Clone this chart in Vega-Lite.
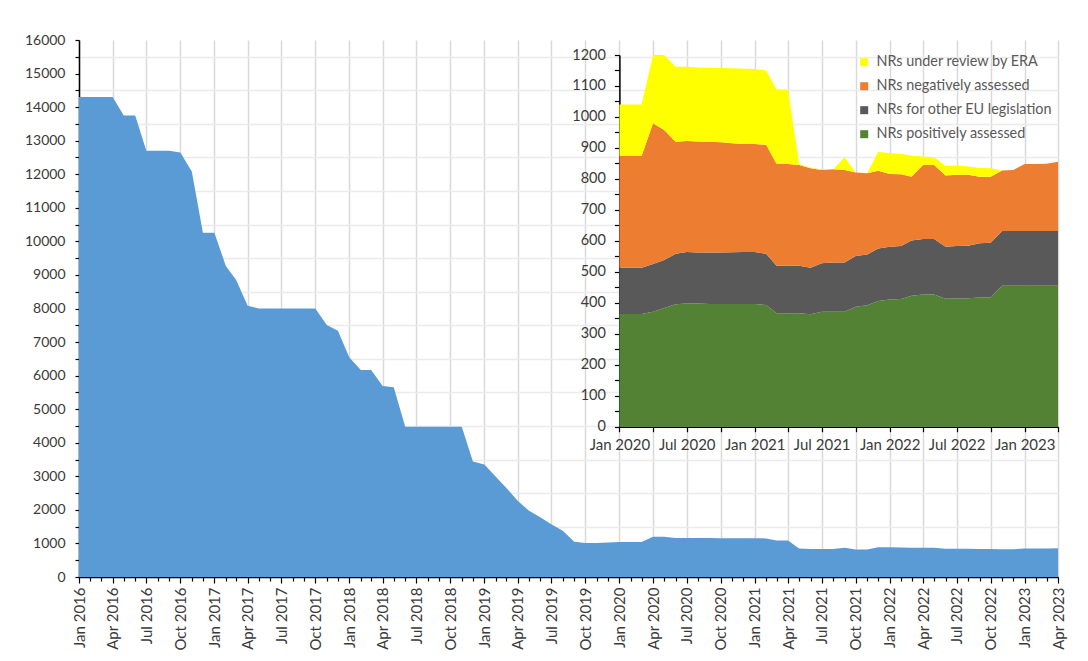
{
  "$schema": "https://vega.github.io/schema/vega-lite/v6.json",
  "width": 979,
  "height": 537,
  "autosize": {"type": "none"},
  "padding": {"left": 79, "top": 40, "right": 30, "bottom": 84},
  "background": "white",
  "config": {
    "font": "Lato",
    "view": {"stroke": null},
    "axis": {"labelFont": "Lato", "labelColor": "#3a3a3a", "domainColor": "black", "tickColor": "black", "title": null, "domainWidth": 1.5, "tickWidth": 1.2}
  },
  "datasets": {
    "main": [
      {"d": "2016-01", "v": 14300}, {"d": "2016-02", "v": 14300}, {"d": "2016-03", "v": 14300}, {"d": "2016-04", "v": 14300},
      {"d": "2016-05", "v": 13750}, {"d": "2016-06", "v": 13750}, {"d": "2016-07", "v": 12700}, {"d": "2016-08", "v": 12700},
      {"d": "2016-09", "v": 12700}, {"d": "2016-10", "v": 12650}, {"d": "2016-11", "v": 12080}, {"d": "2016-12", "v": 10260},
      {"d": "2017-01", "v": 10260}, {"d": "2017-02", "v": 9270}, {"d": "2017-03", "v": 8850}, {"d": "2017-04", "v": 8080},
      {"d": "2017-05", "v": 8000}, {"d": "2017-06", "v": 8000}, {"d": "2017-07", "v": 8000}, {"d": "2017-08", "v": 8000},
      {"d": "2017-09", "v": 8000}, {"d": "2017-10", "v": 8000}, {"d": "2017-11", "v": 7510}, {"d": "2017-12", "v": 7340},
      {"d": "2018-01", "v": 6540}, {"d": "2018-02", "v": 6170}, {"d": "2018-03", "v": 6170}, {"d": "2018-04", "v": 5690},
      {"d": "2018-05", "v": 5650}, {"d": "2018-06", "v": 4480}, {"d": "2018-07", "v": 4480}, {"d": "2018-08", "v": 4480},
      {"d": "2018-09", "v": 4480}, {"d": "2018-10", "v": 4480}, {"d": "2018-11", "v": 4480}, {"d": "2018-12", "v": 3440},
      {"d": "2019-01", "v": 3350}, {"d": "2019-02", "v": 2990}, {"d": "2019-03", "v": 2660}, {"d": "2019-04", "v": 2270},
      {"d": "2019-05", "v": 1980}, {"d": "2019-06", "v": 1780}, {"d": "2019-07", "v": 1570}, {"d": "2019-08", "v": 1380},
      {"d": "2019-09", "v": 1050}, {"d": "2019-10", "v": 1010}, {"d": "2019-11", "v": 1010}, {"d": "2019-12", "v": 1030},
      {"d": "2020-01", "v": 1040}, {"d": "2020-02", "v": 1040}, {"d": "2020-03", "v": 1040}, {"d": "2020-04", "v": 1200},
      {"d": "2020-05", "v": 1200}, {"d": "2020-06", "v": 1162}, {"d": "2020-07", "v": 1162}, {"d": "2020-08", "v": 1160},
      {"d": "2020-09", "v": 1159}, {"d": "2020-10", "v": 1158}, {"d": "2020-11", "v": 1157}, {"d": "2020-12", "v": 1156},
      {"d": "2021-01", "v": 1155}, {"d": "2021-02", "v": 1150}, {"d": "2021-03", "v": 1089}, {"d": "2021-04", "v": 1089},
      {"d": "2021-05", "v": 848}, {"d": "2021-06", "v": 836}, {"d": "2021-07", "v": 831}, {"d": "2021-08", "v": 831},
      {"d": "2021-09", "v": 870}, {"d": "2021-10", "v": 821}, {"d": "2021-11", "v": 818}, {"d": "2021-12", "v": 888},
      {"d": "2022-01", "v": 883}, {"d": "2022-02", "v": 881}, {"d": "2022-03", "v": 875}, {"d": "2022-04", "v": 872},
      {"d": "2022-05", "v": 870}, {"d": "2022-06", "v": 842}, {"d": "2022-07", "v": 843}, {"d": "2022-08", "v": 840},
      {"d": "2022-09", "v": 835}, {"d": "2022-10", "v": 834}, {"d": "2022-11", "v": 827}, {"d": "2022-12", "v": 829},
      {"d": "2023-01", "v": 848}, {"d": "2023-02", "v": 848}, {"d": "2023-03", "v": 849}, {"d": "2023-04", "v": 855}
    ],
    "nr": [
      {"d": "2020-01", "pos": 364, "oth": 149, "neg": 361, "rev": 166},
      {"d": "2020-02", "pos": 364, "oth": 149, "neg": 361, "rev": 166},
      {"d": "2020-03", "pos": 364, "oth": 149, "neg": 361, "rev": 166},
      {"d": "2020-04", "pos": 371, "oth": 154, "neg": 455, "rev": 220},
      {"d": "2020-05", "pos": 383, "oth": 155, "neg": 420, "rev": 242},
      {"d": "2020-06", "pos": 395, "oth": 163, "neg": 362, "rev": 242},
      {"d": "2020-07", "pos": 398, "oth": 166, "neg": 358, "rev": 240},
      {"d": "2020-08", "pos": 398, "oth": 164, "neg": 359, "rev": 239},
      {"d": "2020-09", "pos": 396, "oth": 166, "neg": 358, "rev": 239},
      {"d": "2020-10", "pos": 396, "oth": 166, "neg": 356, "rev": 240},
      {"d": "2020-11", "pos": 396, "oth": 167, "neg": 352, "rev": 242},
      {"d": "2020-12", "pos": 396, "oth": 168, "neg": 349, "rev": 243},
      {"d": "2021-01", "pos": 396, "oth": 168, "neg": 349, "rev": 242},
      {"d": "2021-02", "pos": 393, "oth": 165, "neg": 352, "rev": 240},
      {"d": "2021-03", "pos": 366, "oth": 154, "neg": 328, "rev": 241},
      {"d": "2021-04", "pos": 366, "oth": 154, "neg": 328, "rev": 241},
      {"d": "2021-05", "pos": 366, "oth": 154, "neg": 325, "rev": 3},
      {"d": "2021-06", "pos": 363, "oth": 150, "neg": 321, "rev": 2},
      {"d": "2021-07", "pos": 371, "oth": 157, "neg": 301, "rev": 2},
      {"d": "2021-08", "pos": 371, "oth": 159, "neg": 301, "rev": 0},
      {"d": "2021-09", "pos": 371, "oth": 159, "neg": 299, "rev": 41},
      {"d": "2021-10", "pos": 387, "oth": 164, "neg": 270, "rev": 0},
      {"d": "2021-11", "pos": 392, "oth": 164, "neg": 262, "rev": 0},
      {"d": "2021-12", "pos": 406, "oth": 169, "neg": 251, "rev": 62},
      {"d": "2022-01", "pos": 411, "oth": 170, "neg": 235, "rev": 67},
      {"d": "2022-02", "pos": 412, "oth": 171, "neg": 232, "rev": 66},
      {"d": "2022-03", "pos": 423, "oth": 178, "neg": 206, "rev": 68},
      {"d": "2022-04", "pos": 427, "oth": 179, "neg": 239, "rev": 27},
      {"d": "2022-05", "pos": 427, "oth": 179, "neg": 239, "rev": 25},
      {"d": "2022-06", "pos": 413, "oth": 168, "neg": 230, "rev": 31},
      {"d": "2022-07", "pos": 414, "oth": 169, "neg": 230, "rev": 30},
      {"d": "2022-08", "pos": 415, "oth": 169, "neg": 229, "rev": 27},
      {"d": "2022-09", "pos": 417, "oth": 175, "neg": 215, "rev": 28},
      {"d": "2022-10", "pos": 417, "oth": 177, "neg": 213, "rev": 27},
      {"d": "2022-11", "pos": 455, "oth": 177, "neg": 195, "rev": 0},
      {"d": "2022-12", "pos": 455, "oth": 177, "neg": 197, "rev": 0},
      {"d": "2023-01", "pos": 455, "oth": 177, "neg": 216, "rev": 0},
      {"d": "2023-02", "pos": 455, "oth": 177, "neg": 216, "rev": 0},
      {"d": "2023-03", "pos": 455, "oth": 177, "neg": 217, "rev": 0},
      {"d": "2023-04", "pos": 455, "oth": 177, "neg": 223, "rev": 0}
    ]
  },
  "layer": [
    {
      "data": {"name": "main", "format": {"parse": {"d": "date:'%Y-%m'"}}},
      "mark": {"type": "area", "color": "#5B9BD5"},
      "encoding": {
        "x": {
          "field": "d", "type": "temporal",
          "scale": {"domain": [{"year": 2016, "month": 1, "date": 1}, {"year": 2023, "month": 4, "date": 1}], "nice": false},
          "axis": {
            "tickCount": {"interval": "month", "step": 1},
            "labelExpr": "month(datum.value) % 3 == 0 ? timeFormat(datum.value, '%b %Y') : ''",
            "labelAngle": -90, "labelFontSize": 15, "labelPadding": 4,
            "labelOverlap": false, "labelFlush": false,
            "tickSize": {"condition": {"test": "month(datum.value) % 3 == 0", "value": 6}, "value": 4},
            "gridColor": "#d9d9d9", "gridWidth": 1.5,
            "gridOpacity": {"condition": {"test": "month(datum.value) % 3 == 0", "value": 1}, "value": 0}
          }
        },
        "y": {
          "field": "v", "type": "quantitative",
          "scale": {"domain": [0, 16000], "nice": false},
          "axis": {
            "values": [0, 500, 1000, 1500, 2000, 2500, 3000, 3500, 4000, 4500, 5000, 5500, 6000, 6500, 7000, 7500, 8000, 8500, 9000, 9500, 10000, 10500, 11000, 11500, 12000, 12500, 13000, 13500, 14000, 14500, 15000, 15500, 16000],
            "format": "d",
            "labelExpr": "datum.value % 1000 == 0 ? datum.label : ''",
            "labelFontSize": 14, "labelPadding": 10, "tickSize": 4,
            "gridColor": "#ebebeb", "gridWidth": 1.5,
            "gridOpacity": {"condition": {"test": "datum.value % 1000 == 500", "value": 1}, "value": 0}
          }
        }
      }
    },
    {
      "data": {"name": "nr", "format": {"parse": {"d": "date:'%Y-%m'"}}},
      "transform": [
        {"fold": ["pos", "oth", "neg", "rev"], "as": ["series", "v"]},
        {"calculate": "indexof(['pos','oth','neg','rev'], datum.series)", "as": "o"}
      ],
      "mark": {"type": "area"},
      "encoding": {
        "x": {
          "field": "d", "type": "temporal",
          "scale": {"domain": [{"year": 2020, "month": 1, "date": 1}, {"year": 2023, "month": 4, "date": 1}], "range": [540.4, 979], "nice": false},
          "axis": {
            "orient": "bottom", "offset": -150.3, "grid": false,
            "tickCount": {"interval": "month", "step": 3},
            "labelExpr": "month(datum.value) % 6 == 0 ? timeFormat(datum.value, '%b %Y') : ''",
            "labelAngle": 0, "labelFontSize": 15, "labelPadding": 6,
            "labelOverlap": false, "labelFlush": false, "tickSize": 5
          }
        },
        "y": {
          "field": "v", "type": "quantitative", "stack": "zero",
          "scale": {"domain": [0, 1200], "range": [386.7, 15], "nice": false},
          "axis": {
            "orient": "left", "offset": -540.4, "grid": false,
            "values": [0, 50, 100, 150, 200, 250, 300, 350, 400, 450, 500, 550, 600, 650, 700, 750, 800, 850, 900, 950, 1000, 1050, 1100, 1150, 1200],
            "format": "d",
            "labelExpr": "datum.value % 100 == 0 ? datum.label : ''",
            "labelFontSize": 14.5, "labelPadding": 9, "tickSize": 5
          }
        },
        "color": {
          "field": "series", "type": "nominal",
          "scale": {"domain": ["rev", "neg", "oth", "pos"], "range": ["#FFFF00", "#ED7D31", "#595959", "#548235"]},
          "legend": {
            "orient": "none", "legendX": 778, "legendY": 15, "title": null, "padding": 0,
            "labelExpr": "{'rev': 'NRs under review by ERA', 'neg': 'NRs negatively assessed', 'oth': 'NRs for other EU legislation', 'pos': 'NRs positively assessed'}[datum.label]",
            "labelLimit": 400,
            "symbolType": "square", "symbolSize": 64, "symbolStrokeWidth": 0,
            "labelFont": "Lato", "labelFontSize": 14.4, "labelColor": "#595959", "labelOffset": 5, "rowPadding": 9
          }
        },
        "order": {"field": "o", "type": "quantitative"}
      }
    }
  ],
  "resolve": {"scale": {"x": "independent", "y": "independent"}, "axis": {"x": "independent", "y": "independent"}}
}
